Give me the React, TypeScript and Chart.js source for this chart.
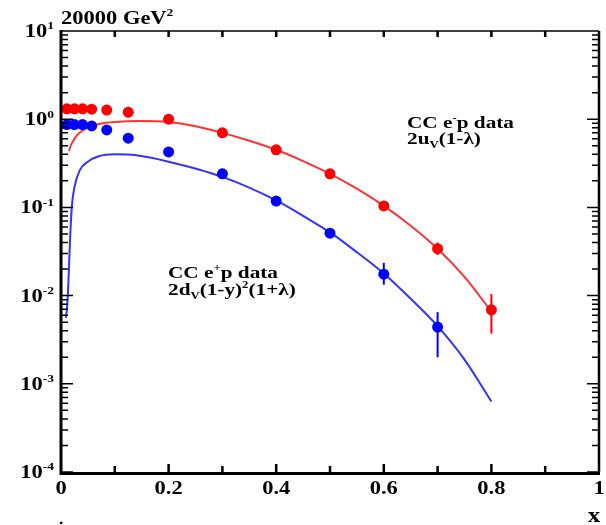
import React, { useEffect, useRef } from "react";
import { Chart, registerables } from "chart.js";
Chart.register(...registerables);

// ---- data ----
const redX = [0.011, 0.025, 0.04, 0.057, 0.085, 0.125, 0.2, 0.3, 0.4, 0.5, 0.6, 0.7, 0.8];
const redY = [1.31, 1.31, 1.31, 1.3, 1.27, 1.2, 1.0, 0.7, 0.45, 0.24, 0.104, 0.034, 0.0069];
const redErrLo: (number | null)[] = [null, null, null, null, null, null, null, null, null, null, 0.096, 0.029, 0.0037];
const redErrHi: (number | null)[] = [null, null, null, null, null, null, null, null, null, null, 0.112, 0.04, 0.0104];

const blueX = [0.011, 0.025, 0.04, 0.057, 0.085, 0.125, 0.2, 0.3, 0.4, 0.5, 0.6, 0.7];
const blueY = [0.87, 0.87, 0.87, 0.84, 0.755, 0.61, 0.425, 0.24, 0.118, 0.051, 0.0175, 0.0044];
const blueErrLo: (number | null)[] = [null, null, null, null, null, null, null, null, null, 0.046, 0.0133, 0.002];
const blueErrHi: (number | null)[] = [null, null, null, null, null, null, null, null, null, 0.056, 0.0235, 0.0065];

const redCurveX = [0.015, 0.018, 0.022, 0.03, 0.041, 0.055, 0.073, 0.1, 0.147, 0.2, 0.25, 0.3, 0.35, 0.4, 0.45, 0.5, 0.55, 0.6, 0.65, 0.7, 0.75, 0.8];
const redCurveY = [0.435, 0.5, 0.56, 0.66, 0.75, 0.83, 0.89, 0.93, 0.955, 0.93, 0.83, 0.7, 0.57, 0.45, 0.335, 0.24, 0.163, 0.104, 0.062, 0.034, 0.0163, 0.0066];

const blueCurveX = [0.009, 0.011, 0.013, 0.015, 0.017, 0.02, 0.025, 0.035, 0.05, 0.07, 0.1, 0.14, 0.2, 0.3, 0.4, 0.45, 0.5, 0.55, 0.6, 0.65, 0.7, 0.75, 0.8];
const blueCurveY = [0.0056, 0.007, 0.011, 0.022, 0.045, 0.1, 0.17, 0.265, 0.33, 0.38, 0.4, 0.39, 0.33, 0.222, 0.12, 0.08, 0.052, 0.031, 0.0178, 0.0092, 0.0045, 0.00188, 0.00063];

const xTickValues = [0, 0.2, 0.4, 0.6, 0.8, 1];
const xTickLabels = ["0", "0.2", "0.4", "0.6", "0.8", "1"];
const yDecades = [1, 0, -1, -2, -3, -4];

const TITLE = "20000 GeV";
const RED_LABEL = ["CC e", "p data"];
const BLUE_LABEL = ["CC e", "p data"];

// ---- text helper ----
type Part = [string, "n" | "sup" | "sub"];
const SX = 1.25;
const FONT = "'Liberation Serif', 'Times New Roman', serif";

function richWidth(ctx: CanvasRenderingContext2D, parts: Part[], size: number) {
  let w = 0;
  for (const [t, k] of parts) {
    const s = k === "n" ? size : size * 0.6;
    ctx.font = `bold ${s}px ${FONT}`;
    w += ctx.measureText(t).width;
  }
  return w;
}

function drawRich(ctx: CanvasRenderingContext2D, x: number, y: number, parts: Part[], size: number, align: "left" | "right" | "center") {
  const w = richWidth(ctx, parts, size) * SX;
  let x0 = x;
  if (align === "right") x0 = x - w;
  else if (align === "center") x0 = x - w / 2;
  ctx.save();
  ctx.translate(x0, y);
  ctx.scale(SX, 1);
  ctx.fillStyle = "#000";
  ctx.textBaseline = "alphabetic";
  ctx.textAlign = "left";
  let cx = 0;
  for (const [t, k] of parts) {
    const s = k === "n" ? size : size * 0.6;
    ctx.font = `bold ${s}px ${FONT}`;
    const dy = k === "sup" ? -size * 0.42 : k === "sub" ? size * 0.25 : 0;
    ctx.fillText(t, cx, dy);
    cx += ctx.measureText(t).width;
  }
  ctx.restore();
}

const framePlugin = {
  id: "frame",
  afterDatasetsDraw(chart: any) {
    const { ctx, scales } = chart;
    const xs = scales.x;
    const ys = scales.y;
    const bars = (X: number[], lo: (number | null)[], hi: (number | null)[], color: string) => {
      ctx.save();
      ctx.strokeStyle = color;
      ctx.lineWidth = 2;
      for (let i = 0; i < X.length; i++) {
        if (lo[i] == null || hi[i] == null) continue;
        const px = xs.getPixelForValue(X[i]);
        ctx.beginPath();
        ctx.moveTo(px, ys.getPixelForValue(lo[i]));
        ctx.lineTo(px, ys.getPixelForValue(hi[i]));
        ctx.stroke();
      }
      ctx.restore();
    };
    bars(redX, redErrLo, redErrHi, "#ff0000");
    bars(blueX, blueErrLo, blueErrHi, "#0000ff");
  },
  afterDraw(chart: any) {
    const { ctx, chartArea: a, scales } = chart;
    const xs = scales.x;
    const ys = scales.y;
    ctx.save();
    ctx.strokeStyle = "#000";
    ctx.lineCap = "butt";
    ctx.lineWidth = 1.5;
    ctx.beginPath();
    ctx.moveTo(a.left, a.top);
    ctx.lineTo(a.right, a.top);
    ctx.stroke();
    ctx.lineWidth = 2.5;
    ctx.beginPath();
    ctx.moveTo(a.right, a.top);
    ctx.lineTo(a.right, a.bottom);
    ctx.stroke();
    ctx.lineWidth = 3;
    ctx.beginPath();
    ctx.moveTo(a.left, a.top - 1);
    ctx.lineTo(a.left, a.bottom + 1.5);
    ctx.lineTo(a.right + 1, a.bottom + 1.5);
    ctx.stroke();

    ctx.lineWidth = 1.5;
    for (let d = -4; d < 1; d++) {
      for (let m = 1; m <= 9; m++) {
        const v = m * Math.pow(10, d);
        const py = ys.getPixelForValue(v);
        const len = m === 1 ? 12 : 7;
        ctx.beginPath();
        ctx.moveTo(a.left, py);
        ctx.lineTo(a.left + len, py);
        ctx.moveTo(a.right, py);
        ctx.lineTo(a.right - len, py);
        ctx.stroke();
      }
    }
    ctx.lineWidth = 2.5;
    for (let i = 1; i < 10; i++) {
      const px = xs.getPixelForValue(i / 10);
      const len = i % 2 === 0 ? 8 : 6;
      ctx.beginPath();
      ctx.moveTo(px, a.bottom);
      ctx.lineTo(px, a.bottom - len);
      ctx.moveTo(px, a.top);
      ctx.lineTo(px, a.top + 6);
      ctx.stroke();
    }
    ctx.restore();

    yDecades.forEach((d) => {
      const py = ys.getPixelForValue(Math.pow(10, d));
      const exp = d < 0 ? "-" + String(-d) : String(d);
      drawRich(ctx, a.left - 7, py + 6, [["10", "n"], [exp, "sup"]], 18, "right");
    });
    xTickValues.forEach((v, i) => {
      drawRich(ctx, xs.getPixelForValue(v), 494, [[xTickLabels[i], "n"]], 18, "center");
    });
    drawRich(ctx, 594, 522, [["x", "n"]], 20, "center");
    drawRich(ctx, 59, 524, [[".", "n"]], 14, "left");

    drawRich(ctx, 61, 24, [[TITLE, "n"], ["2", "sup"]], 18, "left");

    drawRich(ctx, 407, 128, [[RED_LABEL[0], "n"], ["-", "sup"], [RED_LABEL[1], "n"]], 17, "left");
    drawRich(ctx, 407, 144, [["2u", "n"], ["V", "sub"], ["(1-\u03bb)", "n"]], 17, "left");
    drawRich(ctx, 168, 278, [[BLUE_LABEL[0], "n"], ["+", "sup"], [BLUE_LABEL[1], "n"]], 17, "left");
    drawRich(ctx, 168, 295, [["2d", "n"], ["V", "sub"], ["(1-y)", "n"], ["2", "sup"], ["(1+\u03bb)", "n"]], 17, "left");
  },
};

export default function App() {
  const ref = useRef<HTMLCanvasElement>(null);
  useEffect(() => {
    if (!ref.current) return;
    const pts = (X: number[], Y: number[]) => X.map((x, i) => ({ x, y: Y[i] }));
    const chart = new Chart(ref.current, {
      type: "scatter",
      data: {
        datasets: [
          {
            label: "CC e-p data",
            data: pts(redX, redY),
            backgroundColor: "#ff0000",
            borderColor: "#ff0000",
            pointRadius: 5.5,
            pointBorderWidth: 0,
            showLine: false,
          },
          {
            label: "CC e+p data",
            data: pts(blueX, blueY),
            backgroundColor: "#0000ff",
            borderColor: "#0000ff",
            pointRadius: 5.5,
            pointBorderWidth: 0,
            showLine: false,
          },
          {
            label: "2uV(1-λ)",
            data: pts(redCurveX, redCurveY),
            borderColor: "#ff3333",
            borderWidth: 2,
            pointRadius: 0,
            showLine: true,
            cubicInterpolationMode: "monotone",
          },
          {
            label: "2dV(1-y)^2(1+λ)",
            data: pts(blueCurveX, blueCurveY),
            borderColor: "#3333ff",
            borderWidth: 2,
            pointRadius: 0,
            showLine: true,
            cubicInterpolationMode: "monotone",
          },
        ],
      },
      options: {
        animation: false,
        responsive: false,
        maintainAspectRatio: false,
        layout: { padding: { left: 61, right: 7, top: 31, bottom: 53 } },
        plugins: { legend: { display: false }, tooltip: { enabled: false }, title: { display: false } },
        scales: {
          x: { type: "linear", min: 0, max: 1, display: false },
          y: { type: "logarithmic", min: 0.0001, max: 10, display: false },
        },
      },
      plugins: [framePlugin],
    } as any);
    return () => chart.destroy();
  }, []);
  return (
    <div style={{ position: "absolute", left: 0, top: 0, width: 606, height: 525, background: "#fff" }}>
      <canvas ref={ref} width={606} height={525} style={{ width: 606, height: 525, display: "block" }} />
    </div>
  );
}
